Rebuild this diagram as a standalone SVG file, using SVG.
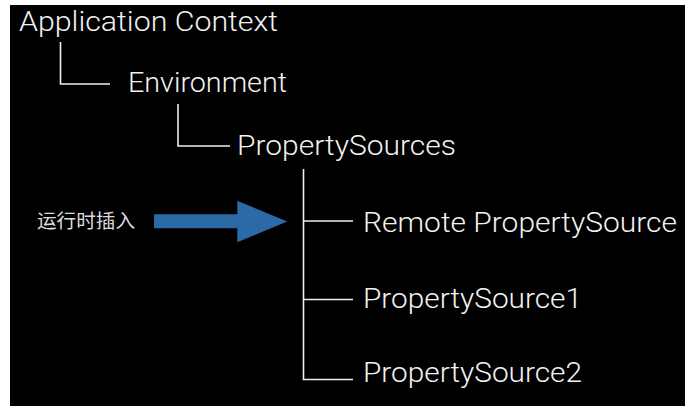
<svg xmlns="http://www.w3.org/2000/svg" width="697" height="411" viewBox="0 0 697 411">
  <style>
    .label { font-family: Roboto, "Liberation Sans", Arial, sans-serif; font-weight: 300; font-size: 27px; fill: #f2f2f2; }
    .note { font-family: "Noto Sans CJK SC", "Noto Sans", sans-serif; font-size: 19px; fill: #dcdcdc; }
    .link { fill: none; stroke: #f0f0f0; stroke-width: 1.6; }
  </style>
  <rect x="0" y="0" width="697" height="411" fill="#ffffff"/>
  <rect x="10" y="5" width="675" height="401" fill="#000000"/>

  <g id="connectors">
    <polyline class="link" points="60.5,42 60.5,84 110,84"/>
    <polyline class="link" points="178,104 178,146 230,146"/>
    <polyline class="link" points="303.5,169 303.5,379.5 353,379.5"/>
    <line class="link" x1="303.5" y1="221" x2="353" y2="221"/>
    <line class="link" x1="303.5" y1="299.5" x2="353" y2="299.5"/>
  </g>

  <g id="application-context">
    <text class="label" x="19" y="31" textLength="259" lengthAdjust="spacingAndGlyphs">Application Context</text>
  </g>
  <g id="environment">
    <text class="label" x="128" y="92" textLength="159" lengthAdjust="spacingAndGlyphs">Environment</text>
  </g>
  <g id="property-sources">
    <text class="label" x="237" y="155" textLength="219" lengthAdjust="spacingAndGlyphs">PropertySources</text>
  </g>
  <g id="remote-property-source">
    <text class="label" x="363" y="232" textLength="314" lengthAdjust="spacingAndGlyphs">Remote PropertySource</text>
  </g>
  <g id="property-source-1">
    <text class="label" x="363" y="308" textLength="219" lengthAdjust="spacingAndGlyphs">PropertySource1</text>
  </g>
  <g id="property-source-2">
    <text class="label" x="363" y="382" textLength="219" lengthAdjust="spacingAndGlyphs">PropertySource2</text>
  </g>

  <g id="runtime-insert">
    <text class="note" x="37" y="228" textLength="98" lengthAdjust="spacingAndGlyphs">运行时插入</text>
    <polygon fill="#2a6aa6" points="154,214.3 237.3,214.3 237.3,200.7 287.3,221.5 237.3,242.3 237.3,228.3 154,228.3"/>
  </g>
</svg>
